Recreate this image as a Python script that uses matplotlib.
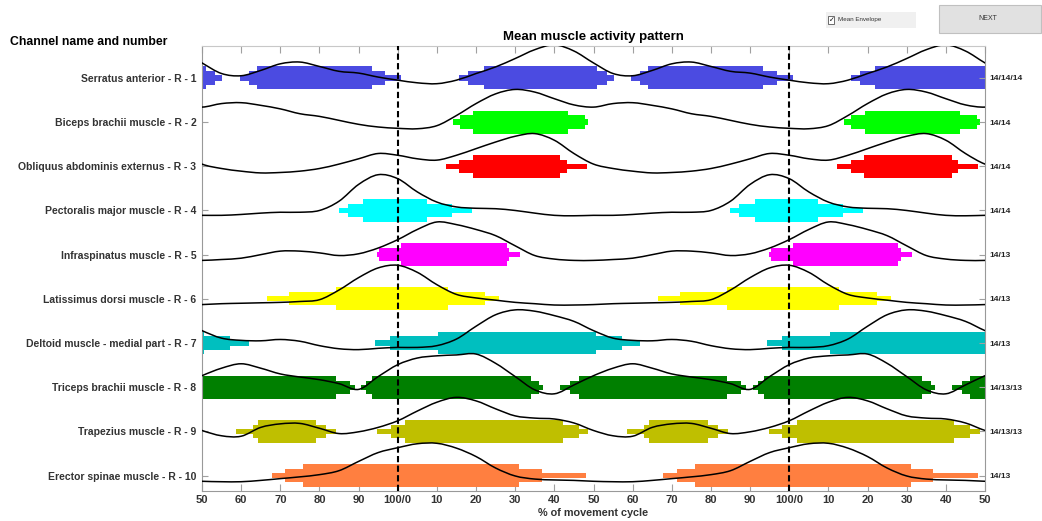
import numpy as np
import matplotlib
matplotlib.use('Agg')
import matplotlib.pyplot as plt
from matplotlib.path import Path
from matplotlib.patches import PathPatch, Rectangle

plt.rcParams['font.family'] = ['Liberation Sans', 'DejaVu Sans']

# channel names, subject counts and colours
channels = ['Serratus anterior - R - 1', 'Biceps brachii muscle - R - 2',
            'Obliquus abdominis externus - R - 3', 'Pectoralis major muscle - R - 4',
            'Infraspinatus muscle - R - 5', 'Latissimus dorsi muscle - R - 6',
            'Deltoid muscle - medial part - R - 7', 'Triceps brachii muscle - R - 8',
            'Trapezius muscle - R - 9', 'Erector spinae muscle - R - 10']
counts = ['14/14/14', '14/14', '14/14', '14/14', '14/13', '14/13', '14/13',
          '14/13/13', '14/13/13', '14/13']
colors = ['#4B4BE1', '#00FF00', '#FF0000', '#00FFFF', '#FF00FF', '#FFFF00',
          '#00BFBF', '#007F00', '#BFBF00', '#FF7F40']

# mean envelope, % of cycle 0,5,...,95 (offset above channel line, in row units)
cycle_pct = np.arange(0, 100, 5)
envelopes = [
    [-0.05, -0.11, -0.13, -0.05, 0.10, 0.25, 0.44, 0.64, 0.75, 0.61, 0.34, 0.10, 0.05, 0.17, 0.32, 0.36, 0.26, 0.15, 0.11, 0.02],
    [-0.14, -0.15, -0.08, 0.15, 0.42, 0.64, 0.74, 0.68, 0.53, 0.39, 0.34, 0.42, 0.44, 0.38, 0.30, 0.19, 0.13, 0.04, -0.05, -0.11],
    [0.25, 0.17, 0.14, 0.25, 0.40, 0.55, 0.68, 0.74, 0.59, 0.29, 0.05, -0.05, -0.11, -0.15, -0.14, -0.11, -0.05, 0.05, 0.17, 0.29],
    [0.72, 0.42, 0.19, 0.08, 0.05, 0.04, 0.00, -0.06, -0.11, -0.12, -0.11, -0.11, -0.09, -0.06, -0.04, -0.04, 0.00, 0.21, 0.59, 0.81],
    [0.34, 0.57, 0.74, 0.68, 0.57, 0.43, 0.20, -0.02, -0.10, -0.13, -0.13, -0.11, -0.08, 0.00, 0.08, 0.08, 0.04, -0.02, 0.02, 0.15],
    [0.76, 0.60, 0.32, 0.10, 0.02, -0.03, -0.08, -0.11, -0.14, -0.14, -0.13, -0.11, -0.10, -0.09, -0.08, -0.06, -0.02, 0.20, 0.48, 0.70],
    [-0.10, -0.10, -0.06, 0.09, 0.38, 0.64, 0.75, 0.72, 0.62, 0.49, 0.28, 0.11, 0.06, 0.05, 0.08, 0.04, -0.06, -0.13, -0.15, -0.12],
    [0.51, 0.66, 0.71, 0.73, 0.75, 0.54, 0.24, -0.06, -0.15, 0.05, 0.26, 0.43, 0.53, 0.43, 0.30, 0.23, 0.17, 0.08, -0.05, 0.24],
    [0.24, 0.46, 0.66, 0.77, 0.69, 0.51, 0.35, 0.30, 0.28, 0.19, 0.02, -0.10, -0.11, 0.09, 0.17, 0.18, 0.07, -0.05, -0.01, 0.09],
    [0.63, 0.72, 0.73, 0.62, 0.43, 0.17, -0.01, -0.08, -0.10, -0.11, -0.13, -0.14, -0.14, -0.11, -0.07, -0.03, 0.02, 0.11, 0.32, 0.52],
]

# activity intervals (start %, end %) : outer = thin, mid, core = thick
onsets_outer = [[(59.7, 0.9), (15.7, 55.2)], [(14, 48.6)], [(12.3, 48.3)], [(84.9, 18.9)],
                [(94.7, 31.3)], [(66.6, 25.9)], [(94.2, 61.9)], [(90.7, 37.2), (41.5, 89)],
                [(58.6, 84.3), (94.8, 48.7)], [(67.8, 48.1)]]
onsets_mid = [[(61.9, 96.8), (18, 53.4)], [(15.9, 47.9)], [(15.7, 43.2)], [(87.2, 13.8)],
              [(95.3, 28.5)], [(72.1, 22.3)], [(98.1, 57.2)], [(91.9, 36.1), (44, 87.8)],
              [(62.9, 81.7), (98.2, 46.2)], [(71.3, 36.8)]]
onsets_core = [[(64, 93.4), (22, 51)], [(19.3, 43.6)], [(19.1, 41.5)], [(91.2, 7.4)],
               [(0.9, 27.9)], [(84.2, 12.8)], [(10.4, 50.6)], [(93.5, 34), (46.2, 84.2)],
               [(64.3, 79.2), (1.9, 42.1)], [(75.9, 31)]]

xtick_labels = ['50', '60', '70', '80', '90', '100/0', '10', '20', '30', '40', '50',
                '60', '70', '80', '90', '100/0', '10', '20', '30', '40', '50']


def smooth_path(x, y):
    verts = [(x[1], y[1])]
    codes = [Path.MOVETO]
    for i in range(1, len(x) - 2):
        c1 = (x[i] + (x[i + 1] - x[i - 1]) / 6, y[i] + (y[i + 1] - y[i - 1]) / 6)
        c2 = (x[i + 1] - (x[i + 2] - x[i]) / 6, y[i + 1] - (y[i + 2] - y[i]) / 6)
        verts += [c1, c2, (x[i + 1], y[i + 1])]
        codes += [Path.CURVE4] * 3
    return Path(verts, codes)


fig = plt.figure(figsize=(10.42, 5.21), dpi=100)
ax = fig.add_axes([202 / 1042, 1 - 491 / 521, 783 / 1042, 445.3 / 521])

rows = np.arange(1, 11)
half = {'outer': 0.06, 'mid': 0.15, 'core': 0.26}
for i, row in enumerate(rows):
    for name, data in [('outer', onsets_outer), ('mid', onsets_mid), ('core', onsets_core)]:
        xr = []
        for s, e in data[i]:
            if e < s:
                e += 100
            for k in range(-1, 3):
                xr.append((s - 50 + 100 * k, e - s))
        ax.broken_barh(xr, (row - half[name], 2 * half[name]),
                       facecolor=colors[i], edgecolor='none', zorder=2)

    xs = np.concatenate([cycle_pct - 50 + 100 * k for k in range(-1, 3)])
    ys = row - np.tile(np.array(envelopes[i]), 4)
    ax.add_patch(PathPatch(smooth_path(xs, ys), fill=False, edgecolor='black',
                           lw=1.1, zorder=3))

for xv in [50, 150]:
    ax.axvline(xv, color='black', ls=(0, (3, 1.6)), lw=1.5, zorder=4)

ax.set_xlim(0, 200)
ax.set_ylim(10.35, 0.27)
ax.set_xticks(np.arange(0, 201, 10))
ax.set_xticklabels(xtick_labels, fontsize=8, fontweight='bold', color='#333333')
ax.set_yticks(rows)
ax.set_yticklabels(channels, fontsize=7.5, fontweight='bold', color='#333333')
ax.tick_params(axis='x', direction='in', top=True, length=5, color='#A0A0A0', pad=3)
ax.tick_params(axis='y', direction='in', right=True, length=4, color='#A0A0A0', pad=4)
ax.set_xlabel('% of movement cycle', fontsize=7.8, fontweight='bold', color='#333333', labelpad=2)
for side in ['left', 'right', 'bottom']:
    ax.spines[side].set_color('#999999')
ax.spines['top'].set_color('#C8C8C8')

ax2 = ax.twinx()
ax2.set_ylim(10.35, 0.27)
ax2.set_yticks(rows)
ax2.set_yticklabels(counts, fontsize=6, fontweight='bold', color='#222222')
ax2.tick_params(axis='y', direction='in', length=4, color='#A0A0A0', pad=3)
for side in ['left', 'right', 'bottom', 'top']:
    ax2.spines[side].set_visible(False)

fig.text(593 / 1042, 1 - 37 / 521, 'Mean muscle activity pattern', ha='center', va='center',
         fontsize=9.5, fontweight='bold')
fig.text(10 / 1042, 1 - 42 / 521, 'Channel name and number', ha='left', va='center',
         fontsize=8.8, fontweight='bold')

# GUI controls
fig.patches.append(Rectangle((826 / 1042, 1 - 28 / 521), 90 / 1042, 16 / 521,
                             transform=fig.transFigure, facecolor='#F0F0F0', edgecolor='none'))
fig.patches.append(Rectangle((828 / 1042, 1 - 24 / 521), 6 / 1042, 8 / 521,
                             transform=fig.transFigure, facecolor='white', edgecolor='#555555', lw=0.6))
fig.text(829 / 1042, 1 - 20 / 521, '\u2713', fontsize=5, ha='left', va='center', family='DejaVu Sans')
fig.text(838 / 1042, 1 - 20 / 521, 'Mean Envelope', fontsize=4.5, ha='left', va='center', color='#333333')
fig.patches.append(Rectangle((939 / 1042, 1 - 33 / 521), 102 / 1042, 28 / 521,
                             transform=fig.transFigure, facecolor='#E1E1E1', edgecolor='#C0C0C0', lw=0.8))
fig.text(988 / 1042, 1 - 19 / 521, 'NEXT', fontsize=5, ha='center', va='center', color='#333333')

fig.savefig('out.png', dpi=100)
